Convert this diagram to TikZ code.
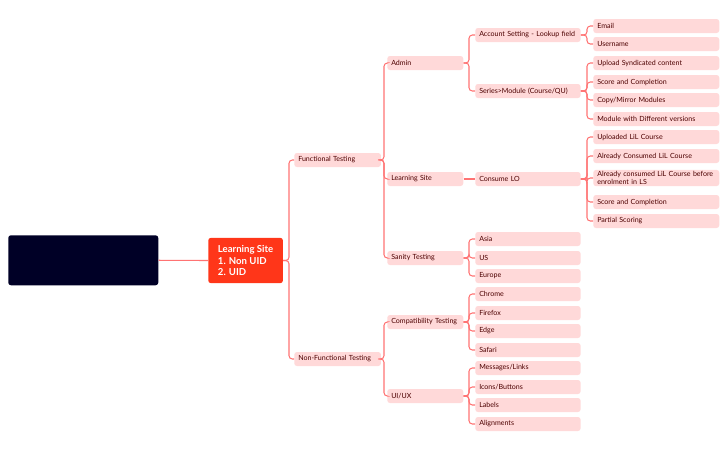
\documentclass[tikz,border=0pt]{standalone}
\usepackage{fontspec}
\setmainfont{Lato}
\begin{document}
\begin{tikzpicture}[x=0.75pt,y=-0.75pt,
  edge/.style={draw=red!55!white, line width=0.8pt, rounded corners=2.5pt},
  bx/.style={fill=pink!45!white, fill=red!15!white, rounded corners=2pt, anchor=west, minimum height=10.5pt, inner xsep=3pt, inner ysep=1pt, align=left, text=black!70!red, font=\fontsize{5.3}{6.2}\selectfont},
  l1/.style={bx, text width=59pt},
  l2/.style={bx, text width=51pt},
  l3/.style={bx, text width=73pt},
  l4/.style={bx, text width=88.5pt}]
\useasboundingbox (0,0) rectangle (728,451);
\node[fill=black!85!blue, rounded corners=2pt, minimum width=112.5pt, minimum height=37.5pt, anchor=north west] (blk) at (8,235) {};
\node[fill=red!75!orange!90!white, rounded corners=2pt, anchor=west, minimum width=56pt, minimum height=34pt, text=white, align=left, font=\fontsize{7.2}{8.4}\selectfont\bfseries, inner xsep=6pt] (root) at (208,260.5) {Learning Site\\1. Non UID\\2. UID};
\draw[edge] (blk.east) -- (root.west);

\node[l1] (ft) at (294,160) {Functional Testing};
\node[l1] (nft) at (294,359) {Non-Functional Testing};
\node[l2] (adm) at (387,63) {Admin};
\node[l2] (ls) at (387,179) {Learning Site};
\node[l2] (san) at (387,258) {Sanity Testing};
\node[l2] (cmp) at (387,322) {Compatibility Testing};
\node[l2] (ui) at (387,396) {UI/UX};
\node[l3] (acc) at (475,35) {Account Setting - Lookup field};
\node[l3] (ser) at (475,91) {Series>Module (Course/QU)};
\node[l3] (clo) at (475,179) {Consume LO};
\node[l3] (asia) at (475,239) {Asia};
\node[l3] (us) at (475,258) {US};
\node[l3] (eu) at (475,276) {Europe};
\node[l3] (chr) at (475,294) {Chrome};
\node[l3] (ff) at (475,313) {Firefox};
\node[l3] (edge) at (475,331) {Edge};
\node[l3] (saf) at (475,350) {Safari};
\node[l3] (msg) at (475,368) {Messages/Links};
\node[l3] (ico) at (475,387) {Icons/Buttons};
\node[l3] (lab) at (475,405) {Labels};
\node[l3] (ali) at (475,424) {Alignments};
\node[l4] (em) at (593,26) {Email};
\node[l4] (un) at (593,44) {Username};
\node[l4] (up) at (593,63) {Upload Syndicated content};
\node[l4] (sc1) at (593,82) {Score and Completion};
\node[l4] (cp) at (593,100) {Copy/Mirror Modules};
\node[l4] (mod) at (593,119) {Module with Different versions};
\node[l4] (ul) at (593,137) {Uploaded LiL Course};
\node[l4] (ac) at (593,156) {Already Consumed LiL Course};
\node[l4] (acb) at (593,178) {Already consumed LiL Course before enrolment in LS};
\node[l4] (sc2) at (593,202) {Score and Completion};
\node[l4] (ps) at (593,221) {Partial Scoring};

\foreach \c in {ft,nft} \draw[edge] (root.east) -- (289,260.5) |- (\c.west);
\foreach \c in {adm,ls,san} \draw[edge] (ft.east) -- (384,160) |- (\c.west);
\foreach \c in {cmp,ui} \draw[edge] (nft.east) -- (384,359) |- (\c.west);
\foreach \c in {acc,ser} \draw[edge] (adm.east) -- (469,63) |- (\c.west);
\draw[edge] (ls.east) -- (clo.west);
\foreach \c in {asia,us,eu} \draw[edge] (san.east) -- (469,258) |- (\c.west);
\foreach \c in {chr,ff,edge,saf} \draw[edge] (cmp.east) -- (469,322) |- (\c.west);
\foreach \c in {msg,ico,lab,ali} \draw[edge] (ui.east) -- (469,396) |- (\c.west);
\foreach \c in {em,un} \draw[edge] (acc.east) -- (587,35) |- (\c.west);
\foreach \c in {up,sc1,cp,mod} \draw[edge] (ser.east) -- (587,91) |- (\c.west);
\foreach \c in {ul,ac,acb,sc2,ps} \draw[edge] (clo.east) -- (587,179) |- (\c.west);
\end{tikzpicture}
\end{document}
